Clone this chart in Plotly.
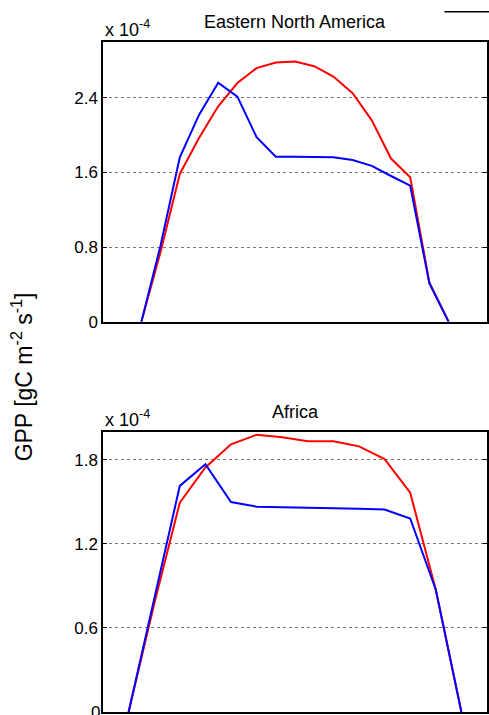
import plotly.graph_objects as go
from plotly.subplots import make_subplots

# ---- data (GPP in units of 1e-4 gC m^-2 s^-1) ----
ena_x = [0, 1, 2, 3, 4, 5, 6, 7, 8, 9, 10, 11, 12, 13, 14, 15, 16]
ena_red = [0, 0.75, 1.585, 1.97, 2.31, 2.56, 2.72, 2.78, 2.79, 2.74, 2.63, 2.45, 2.16, 1.75, 1.55, 0.42, 0]
ena_blue = [0, 0.82, 1.764, 2.218, 2.564, 2.414, 1.978, 1.770, 1.770, 1.770, 1.764, 1.735, 1.671, 1.563, 1.459, 0.41, 0]

afr_x = [0, 1, 2, 3, 4, 5, 6, 7, 8, 9, 10, 11, 12, 13]
afr_red = [0, 0.77, 1.494, 1.745, 1.91, 1.978, 1.96, 1.931, 1.931, 1.895, 1.804, 1.565, 0.872, 0]
afr_blue = [0, 0.81, 1.613, 1.768, 1.498, 1.465, 1.462, 1.46, 1.457, 1.45, 1.445, 1.381, 0.872, 0]

ena_ticks = [0, 0.8, 1.6, 2.4]
ena_ticktext = ["0", "0.8", "1.6", "2.4"]
afr_ticks = [0, 0.6, 1.2, 1.8]
afr_ticktext = ["0", "0.6", "1.2", "1.8"]

titles = ["Eastern North America", "Africa"]
ylabel = "GPP [gC m<sup>-2</sup> s<sup>-1</sup>]"
scale_label = "x 10<sup>-4</sup>"

FONT = "Liberation Sans, Arial, Helvetica, sans-serif"
RED = "#ff0000"
BLUE = "#0000ff"

fig = make_subplots(rows=2, cols=1, vertical_spacing=0.164)

fig.add_trace(go.Scatter(x=ena_x, y=ena_red, mode="lines", line=dict(color=RED, width=2)), row=1, col=1)
fig.add_trace(go.Scatter(x=ena_x, y=ena_blue, mode="lines", line=dict(color=BLUE, width=2)), row=1, col=1)
fig.add_trace(go.Scatter(x=afr_x, y=afr_red, mode="lines", line=dict(color=RED, width=2)), row=2, col=1)
fig.add_trace(go.Scatter(x=afr_x, y=afr_blue, mode="lines", line=dict(color=BLUE, width=2)), row=2, col=1)

axis_common = dict(showline=True, linecolor="black", linewidth=1.5, mirror=True, zeroline=False,
                   automargin=False)

fig.update_layout(
    width=489, height=715,
    margin=dict(l=103, r=2, t=42, b=3),
    paper_bgcolor="white", plot_bgcolor="white",
    showlegend=False,
    font=dict(family=FONT, size=17, color="black"),
    xaxis=dict(domain=[0, 1], range=[-2, 18], showticklabels=False, ticks="", showgrid=False, **axis_common),
    xaxis2=dict(domain=[0, 1], range=[-1, 14], showticklabels=False, ticks="", showgrid=False, **axis_common),
    yaxis=dict(domain=[0.5825, 1], range=[0, 3.0], tickvals=ena_ticks, ticktext=ena_ticktext,
               ticks="inside", ticklen=4, tickcolor="black", showgrid=True, gridcolor="#777",
               griddash="dot", gridwidth=1, **{**axis_common, "mirror": "ticks"}),
    yaxis2=dict(domain=[0, 0.4184], range=[0, 2.0], tickvals=afr_ticks, ticktext=afr_ticktext,
                ticks="inside", ticklen=4, tickcolor="black", showgrid=True, gridcolor="#777",
                griddash="dot", gridwidth=1, **{**axis_common, "mirror": "ticks"}),
)

annotations = [
    dict(text=titles[0], x=0.5, y=1.0, xref="paper", yref="y domain", yanchor="bottom",
         yshift=8, showarrow=False, font=dict(size=18)),
    dict(text=titles[1], x=0.5, y=1.0, xref="paper", yref="y2 domain", yanchor="bottom",
         yshift=8, showarrow=False, font=dict(size=18)),
    dict(text=scale_label, x=0, y=1.0, xref="paper", yref="y domain", xanchor="left", yanchor="bottom",
         showarrow=False, font=dict(size=18)),
    dict(text=scale_label, x=0, y=1.0, xref="paper", yref="y2 domain", xanchor="left", yanchor="bottom",
         showarrow=False, font=dict(size=18)),
    dict(text=ylabel, x=-0.21, y=0.5, xref="paper", yref="paper", xanchor="center", yanchor="middle",
         textangle=-90, showarrow=False, font=dict(size=23)),
    # bottom "0" label of the Africa axis (partly cut by the picture edge, as in the reference)
    dict(text=afr_ticktext[0], x=0, y=afr_ticks[0], xref="paper", yref="y2", xanchor="right",
         yanchor="middle", xshift=-1, showarrow=False, font=dict(size=17)),
]
fig.update_layout(annotations=annotations)

fig.add_shape(type="line", xref="paper", yref="paper", x0=0.889, x1=1.01, y0=1.0452, y1=1.0452,
              line=dict(color="black", width=1.5))

post = (
    "document.documentElement.style.margin='0';"
    "document.documentElement.style.overflow='hidden';"
    "document.body.style.margin='0';"
    "document.body.style.overflow='hidden';"
)
fig.write_html("out.html", config={"displayModeBar": False}, post_script=post)
